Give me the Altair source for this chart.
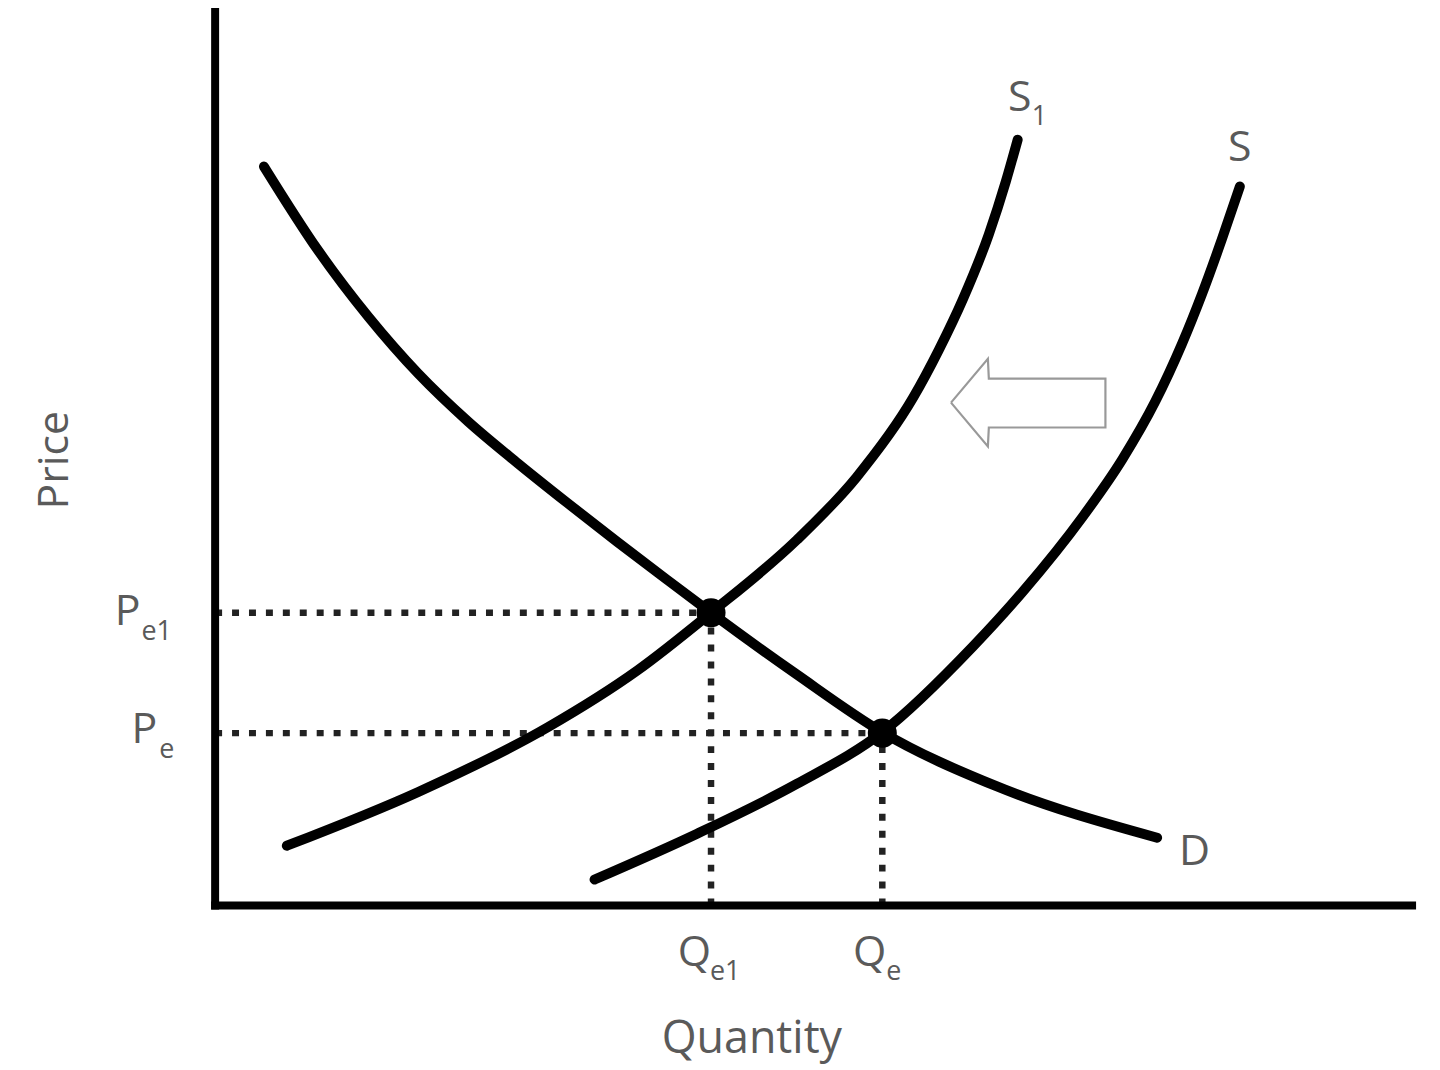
import altair as alt
import pandas as pd

# ---- data (quantity 0-100, price 0-100) ----
d_q = [4.08, 8.65, 12.81, 16.97, 21.13, 25.29, 29.45, 33.61, 37.77, 41.43, 48.59, 55.74, 65.22, 78.70]
d_p = [82.54, 73.08, 65.74, 59.40, 54.06, 49.39, 44.94, 40.60, 36.37, 32.70, 25.81, 19.35, 13.35, 7.56]

s1_q = [5.99, 16.97, 27.79, 35.27, 41.43, 48.59, 53.58, 58.32, 60.48, 62.48, 64.64, 66.06, 67.05]
s1_p = [6.67, 12.68, 19.91, 26.25, 32.70, 40.82, 47.83, 56.73, 62.10, 67.74, 74.97, 80.87, 85.54]

s_q = [31.70, 40.27, 48.59, 55.74, 63.31, 67.47, 72.46, 75.79, 78.54, 80.78, 82.45, 84.11, 85.61]
s_p = [2.89, 8.01, 13.57, 19.35, 28.92, 35.04, 43.38, 49.83, 56.28, 62.74, 68.30, 74.42, 80.31]

eq_q = [41.43, 55.74]          # Qe1, Qe
eq_p = [32.70, 19.25]          # Pe1, Pe

arrow_q = [61.48, 64.56, 64.64, 74.38, 74.38, 64.64, 64.56, 61.48]
arrow_p = [56.17, 61.07, 58.84, 58.84, 53.39, 53.39, 51.28, 56.17]

axis_q = [0, 100]
axis_p = [0, 100]

TXT = "#5a5a5a"
FONT = "Open Sans"
BIG = 43
SMALL = 27

xs = alt.Scale(domain=[0, 100], nice=False, zero=False)
ys = alt.Scale(domain=[0, 100], nice=False, zero=False)
X = lambda f: alt.X(f, type="quantitative", scale=xs, axis=None)
Y = lambda f: alt.Y(f, type="quantitative", scale=ys, axis=None)

curves = pd.DataFrame(
    {"q": d_q + s1_q + s_q,
     "p": d_p + s1_p + s_p,
     "curve": ["D"] * len(d_q) + ["S1"] * len(s1_q) + ["S"] * len(s_q)}
)

ax_df = pd.DataFrame({"q0": [axis_q[0]], "q1": [axis_q[1]], "p0": [axis_p[0]], "p1": [axis_p[1]]})
x_axis = alt.Chart(ax_df).mark_rule(strokeWidth=8, color="black", strokeCap="square").encode(
    x=X("q0"), x2="q1", y=Y("p0"))
y_axis = alt.Chart(ax_df).mark_rule(strokeWidth=8, color="black", strokeCap="square").encode(
    x=X("q0"), y=Y("p0"), y2="p1")

lines = alt.Chart(curves).mark_line(
    interpolate="monotone", strokeWidth=10, strokeCap="round", color="black"
).encode(x=X("q"), y=Y("p"), detail="curve:N")

eq = pd.DataFrame({"q": eq_q, "p": eq_p, "zero": [0, 0]})
hdots = alt.Chart(eq).mark_rule(strokeDash=[7, 10], strokeWidth=6.5, color="#222222").encode(
    x=X("zero"), x2="q", y=Y("p"))
vdots = alt.Chart(eq).mark_rule(strokeDash=[7, 10], strokeWidth=6.5, color="#222222").encode(
    x=X("q"), y=Y("zero"), y2="p")
pts = alt.Chart(eq).mark_circle(size=850, color="black", opacity=1).encode(x=X("q"), y=Y("p"))

arrow = alt.Chart(pd.DataFrame({"q": arrow_q, "p": arrow_p, "i": list(range(len(arrow_q)))})).mark_line(
    color="#999999", strokeWidth=2.2, strokeJoin="miter").encode(
    x=X("q"), y=Y("p"), order="i:O")


def txt_data(q, p, text, size, align, dx=0, dy=0):
    return alt.Chart(pd.DataFrame({"q": [q], "p": [p], "t": [text]})).mark_text(
        font=FONT, fontSize=size, color=TXT, align=align, baseline="alphabetic", dx=dx, dy=dy
    ).encode(x=X("q"), y=Y("p"), text="t:N")


def txt_px_x(xpx, p, text, size, align, dy=0):
    return alt.Chart(pd.DataFrame({"p": [p], "t": [text]})).mark_text(
        font=FONT, fontSize=size, color=TXT, align=align, baseline="alphabetic", dy=dy
    ).encode(x=alt.value(xpx), y=Y("p"), text="t:N")


def txt_px_y(q, ypx, text, size, align, dx=0):
    return alt.Chart(pd.DataFrame({"q": [q], "t": [text]})).mark_text(
        font=FONT, fontSize=size, color=TXT, align=align, baseline="alphabetic", dx=dx
    ).encode(x=X("q"), y=alt.value(ypx), text="t:N")


labels = [
    # curve labels
    txt_data(s1_q[-1], s1_p[-1], "S", BIG, "center", dx=2, dy=-29),
    txt_data(s1_q[-1], s1_p[-1], "1", SMALL, "left", dx=14, dy=-15),
    txt_data(s_q[-1], s_p[-1], "S", BIG, "center", dx=0, dy=-26),
    txt_data(d_q[-1], d_p[-1], "D", BIG, "left", dx=22, dy=27),
    # price tick labels
    txt_px_x(-75, eq_p[0], "P", BIG, "right", dy=12),
    txt_px_x(-74, eq_p[0], "e1", SMALL, "left", dy=27),
    txt_px_x(-58, eq_p[1], "P", BIG, "right", dy=10),
    txt_px_x(-56, eq_p[1], "e", SMALL, "left", dy=25),
    # quantity tick labels
    txt_px_y(eq_q[0], 960, "Q", BIG, "right", dx=0),
    txt_px_y(eq_q[0], 974, "e1", SMALL, "left", dx=-1),
    txt_px_y(eq_q[1], 960, "Q", BIG, "right", dx=4),
    txt_px_y(eq_q[1], 974, "e", SMALL, "left", dx=4),
]

titles = [
    alt.Chart(pd.DataFrame({"t": ["Quantity"]})).mark_text(
        font=FONT, fontSize=45, color=TXT, align="center", baseline="alphabetic"
    ).encode(x=alt.value(539), y=alt.value(1047), text="t:N"),
    alt.Chart(pd.DataFrame({"t": ["Price"]})).mark_text(
        font=FONT, fontSize=BIG, color=TXT, align="center", baseline="middle", angle=270
    ).encode(x=alt.value(-161), y=alt.value(452), text="t:N"),
]

chart = alt.layer(hdots, vdots, lines, pts, arrow, x_axis, y_axis, *labels, *titles).properties(
    width=1202, height=899,
    padding={"left": 208, "top": 0, "right": 20, "bottom": 162},
    autosize=alt.AutoSizeParams(type="none"),
    background="white",
).configure_view(stroke=None)

chart.save("out.html", embed_options={"renderer": "svg", "actions": False})
